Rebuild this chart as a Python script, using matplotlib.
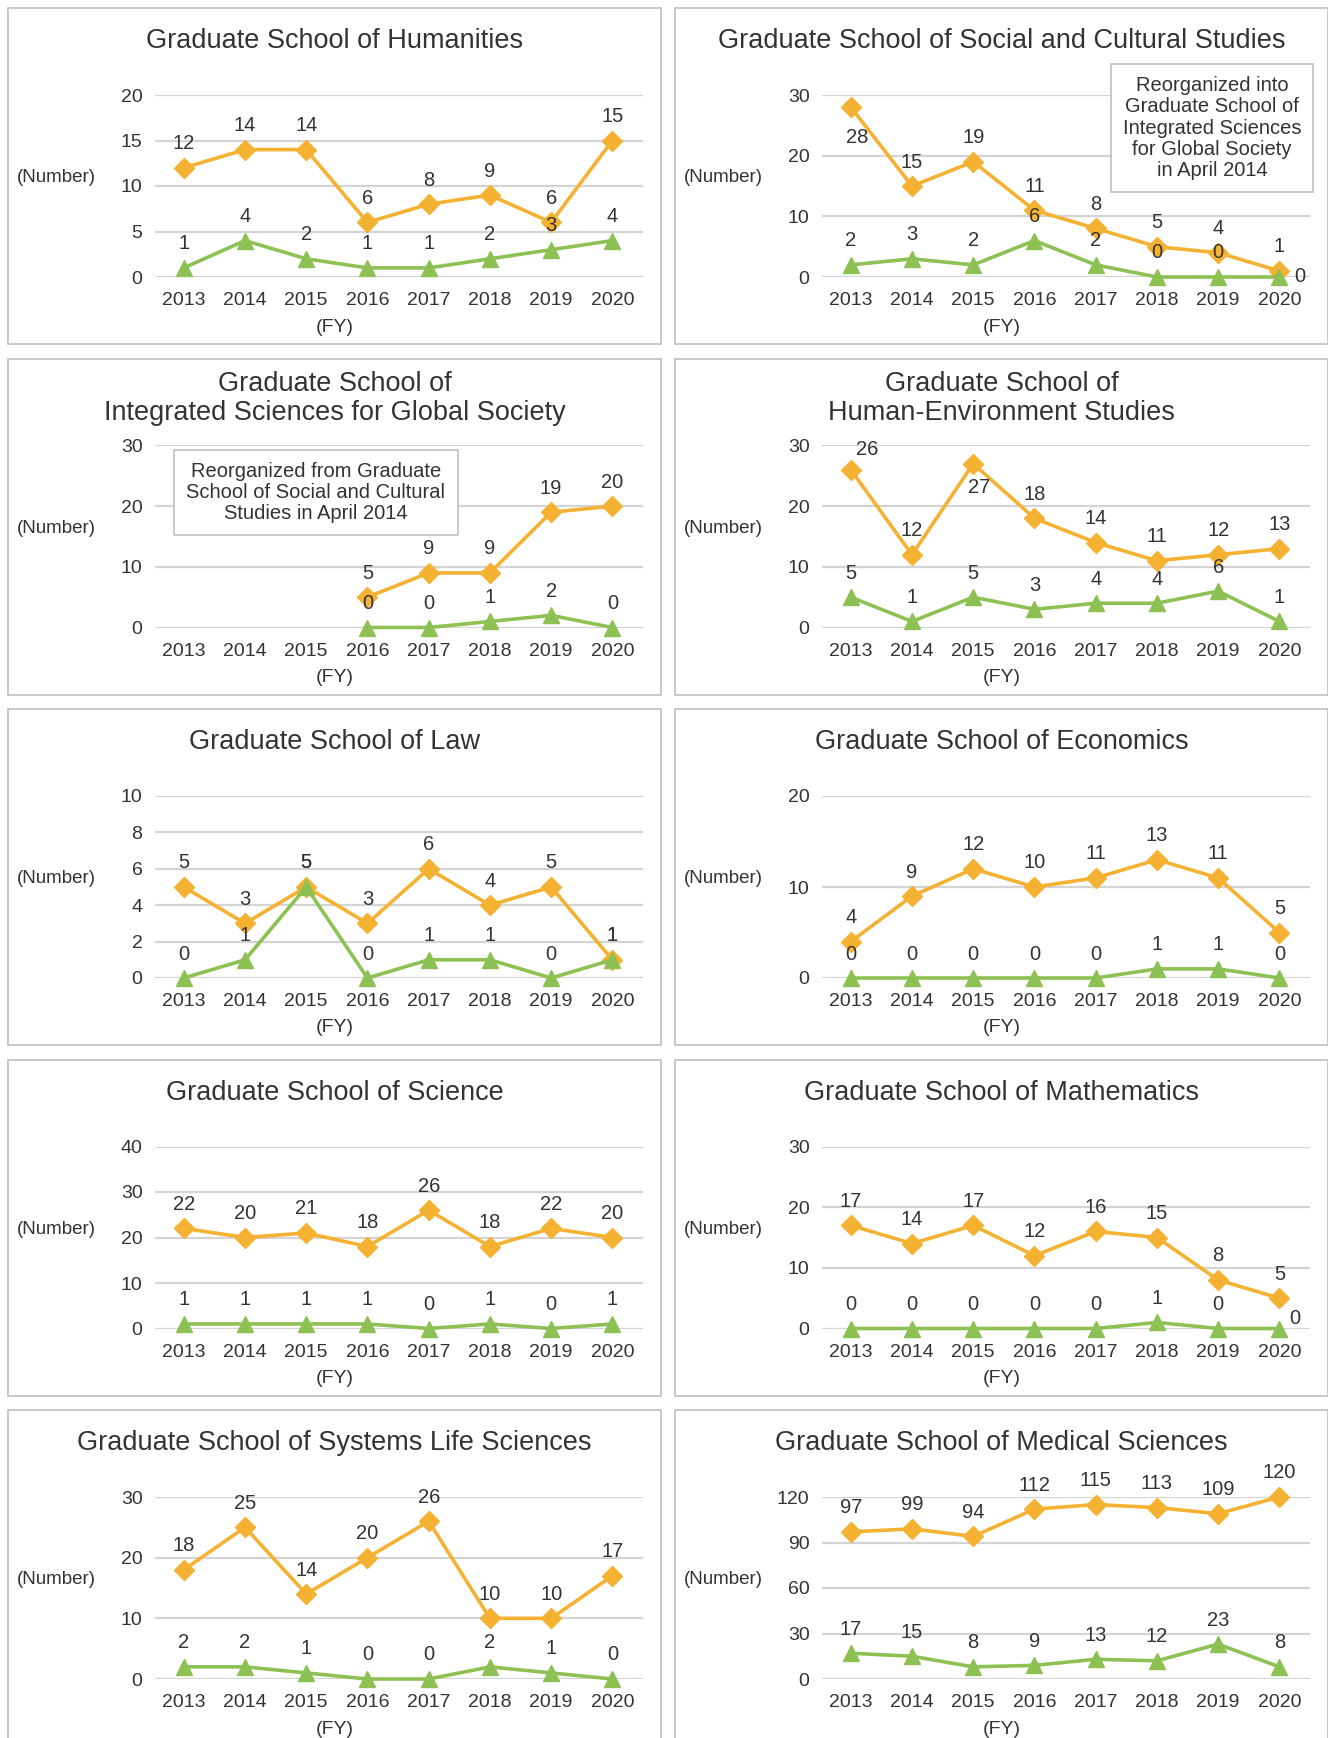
import matplotlib.pyplot as plt
from matplotlib.patches import Rectangle

plt.rcParams['font.family'] = ['Liberation Sans', 'DejaVu Sans']

years = ["2013", "2014", "2015", "2016", "2017", "2018", "2019", "2020"]

titles = [
    "Graduate School of Humanities",
    "Graduate School of Social and Cultural Studies",
    "Graduate School of\nIntegrated Sciences for Global Society",
    "Graduate School of\nHuman-Environment Studies",
    "Graduate School of Law",
    "Graduate School of Economics",
    "Graduate School of Science",
    "Graduate School of Mathematics",
    "Graduate School of Systems Life Sciences",
    "Graduate School of Medical Sciences",
]

humanities_o = [12, 14, 14, 6, 8, 9, 6, 15]
humanities_g = [1, 4, 2, 1, 1, 2, 3, 4]
social_o = [28, 15, 19, 11, 8, 5, 4, 1]
social_g = [2, 3, 2, 6, 2, 0, 0, 0]
integrated_o = [None, None, None, 5, 9, 9, 19, 20]
integrated_g = [None, None, None, 0, 0, 1, 2, 0]
humanenv_o = [26, 12, 27, 18, 14, 11, 12, 13]
humanenv_g = [5, 1, 5, 3, 4, 4, 6, 1]
law_o = [5, 3, 5, 3, 6, 4, 5, 1]
law_g = [0, 1, 5, 0, 1, 1, 0, 1]
economics_o = [4, 9, 12, 10, 11, 13, 11, 5]
economics_g = [0, 0, 0, 0, 0, 1, 1, 0]
science_o = [22, 20, 21, 18, 26, 18, 22, 20]
science_g = [1, 1, 1, 1, 0, 1, 0, 1]
math_o = [17, 14, 17, 12, 16, 15, 8, 5]
math_g = [0, 0, 0, 0, 0, 1, 0, 0]
systems_o = [18, 25, 14, 20, 26, 10, 10, 17]
systems_g = [2, 2, 1, 0, 0, 2, 1, 0]
medical_o = [97, 99, 94, 112, 115, 113, 109, 120]
medical_g = [17, 15, 8, 9, 13, 12, 23, 8]

orange = [humanities_o, social_o, integrated_o, humanenv_o, law_o,
          economics_o, science_o, math_o, systems_o, medical_o]
green = [humanities_g, social_g, integrated_g, humanenv_g, law_g,
         economics_g, science_g, math_g, systems_g, medical_g]
yticks = [
    [0, 5, 10, 15, 20],
    [0, 10, 20, 30],
    [0, 10, 20, 30],
    [0, 10, 20, 30],
    [0, 2, 4, 6, 8, 10],
    [0, 10, 20],
    [0, 10, 20, 30, 40],
    [0, 10, 20, 30],
    [0, 10, 20, 30],
    [0, 30, 60, 90, 120],
]

notes = {
    1: "Reorganized into\nGraduate School of\nIntegrated Sciences\nfor Global Society\nin April 2014",
    2: "Reorganized from Graduate\nSchool of Social and Cultural\nStudies in April 2014",
}

# label offsets (pixels) that differ from the default "above"
label_shift = {
    (1, 'o', 0): (6, -30),
    (1, 'g', 7): (20, 0),
    (3, 'o', 0): (16, 20),
    (3, 'o', 2): (6, -24),
    (7, 'g', 7): (15, 10),
}

W, H = 1328, 1738
C_OR = '#F4B132'
C_GR = '#8DC153'
TXT = '#333333'

fig = plt.figure(figsize=(W / 100, H / 100), dpi=100)


def frac(x, y):
    return x / W, 1 - y / H


for i in range(10):
    r, c = divmod(i, 2)
    px = 8 if c == 0 else 675
    py = 8 + r * 350.5
    pw, ph = 653, 336

    fig.add_artist(Rectangle(frac(px, py + ph), pw / W, ph / H,
                             transform=fig.transFigure, fill=False,
                             edgecolor='#BFBFBF', lw=1.2))

    ax = fig.add_axes([(px + 147) / W, 1 - (py + 269) / H, 488 / W, 182 / H])
    x = list(range(8))
    ax.plot(x, orange[i], color=C_OR, lw=2.6, marker='D', ms=10, zorder=3,
            clip_on=False)
    ax.plot(x, green[i], color=C_GR, lw=2.6, marker='^', ms=12, zorder=3,
            clip_on=False)

    for key, ser in (('o', orange[i]), ('g', green[i])):
        for j, v in enumerate(ser):
            if v is None:
                continue
            dx, dy = label_shift.get((i, key, j), (0, 24))
            ax.annotate(str(v), (j, v), xytext=(dx, dy),
                        textcoords='offset pixels', ha='center', va='center',
                        fontsize=14.5, color=TXT, zorder=4)

    ax.set_xlim(-0.47, 7.5)
    ax.set_ylim(0, yticks[i][-1])
    ax.set_yticks(yticks[i])
    ax.set_xticks(x)
    ax.set_xticklabels(years)
    ax.tick_params(length=0, labelsize=14, colors=TXT)
    ax.tick_params(axis='y', pad=9)
    ax.tick_params(axis='x', pad=11)
    ax.grid(axis='y', color='#D4D4D4', lw=1.6)
    ax.set_axisbelow(True)
    for s in ax.spines.values():
        s.set_visible(False)
    ax.patch.set_alpha(0)

    cx = px + pw / 2
    fig.text(*frac(cx, py + 33 if '\n' not in titles[i] else py + 40),
             titles[i], ha='center', va='center', fontsize=19.5, color=TXT,
             linespacing=1.12)
    fig.text(*frac(px + 48, py + 170), "(Number)", ha='center', va='center',
             fontsize=13.5, color=TXT)
    fig.text(*frac(cx, py + 319), "(FY)", ha='center', va='center',
             fontsize=14, color=TXT)

    if i in notes:
        nx = 1212 if i == 1 else 316
        ny = py + (120 if i == 1 else 134)
        fig.text(*frac(nx, ny), notes[i], ha='center', va='center',
                 fontsize=14.5, color=TXT, linespacing=1.15,
                 bbox=dict(boxstyle='square,pad=0.6', fc='white',
                           ec='#BFBFBF', lw=1.2), zorder=5)

fig.savefig('out.png', dpi=100, facecolor='white')
